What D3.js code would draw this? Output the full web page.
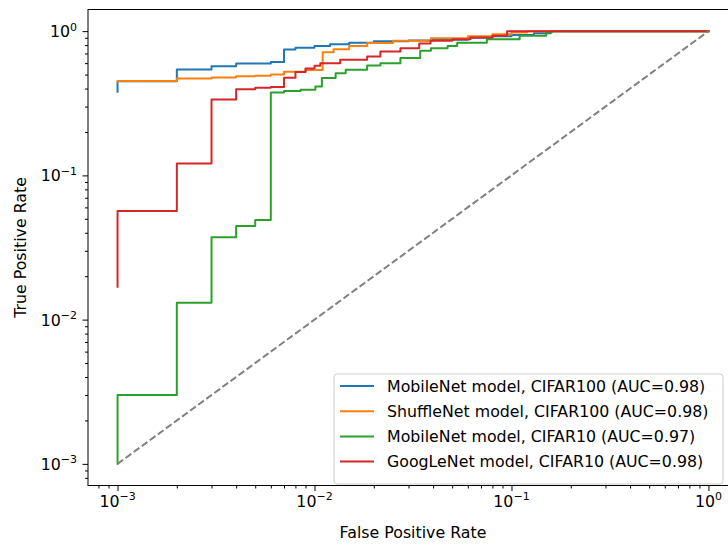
<!DOCTYPE html>
<html><head><meta charset="utf-8">
<script src="https://cdn.jsdelivr.net/npm/d3@7"></script>
<style>
html,body{margin:0;padding:0;background:#fff;}
svg{display:block;font-family:"DejaVu Sans",sans-serif;}
</style></head>
<body>
<svg id="c" width="728" height="545"></svg>
<script>
// ---- data (FPR / TPR step points of each ROC curve) ----
const seriesNames = [
  "MobileNet model, CIFAR100 (AUC=0.98)",
  "ShuffleNet model, CIFAR100 (AUC=0.98)",
  "MobileNet model, CIFAR10 (AUC=0.97)",
  "GoogLeNet model, CIFAR10 (AUC=0.98)"
];
const seriesColors = ["#1f77b4", "#ff7f0e", "#2ca02c", "#d62728"];

const mobileC100Fpr = [0.001, 0.001, 0.002, 0.003, 0.004, 0.006, 0.007, 0.008, 0.010, 0.012, 0.015, 0.020, 0.030, 0.040, 0.060, 0.080, 0.100, 0.130, 0.158, 1.0];
const mobileC100Tpr = [0.38, 0.45, 0.542, 0.572, 0.597, 0.612, 0.747, 0.767, 0.79, 0.81, 0.83, 0.85, 0.86, 0.87, 0.90, 0.92, 0.94, 0.965, 1.0, 1.0];

const shuffleC100Fpr = [0.001, 0.001, 0.002, 0.003, 0.004, 0.005, 0.006, 0.007, 0.009, 0.011, 0.0125, 0.015, 0.0185, 0.025, 0.039, 0.060, 0.080, 0.100, 0.120, 1.0];
const shuffleC100Tpr = [0.445, 0.452, 0.47, 0.478, 0.486, 0.49, 0.50, 0.522, 0.537, 0.715, 0.75, 0.79, 0.826, 0.857, 0.894, 0.92, 0.95, 0.98, 1.0, 1.0];

const mobileC10Fpr = [0.001, 0.001, 0.002, 0.003, 0.004, 0.005, 0.006, 0.007, 0.0085, 0.0101, 0.0109, 0.0128, 0.0144, 0.0185, 0.0216, 0.0273, 0.0344, 0.039, 0.0474, 0.053, 0.075, 0.110, 0.150, 0.160, 1.0];
const mobileC10Tpr = [0.001, 0.003, 0.0131, 0.0372, 0.0446, 0.049, 0.376, 0.384, 0.392, 0.414, 0.473, 0.51, 0.54, 0.578, 0.60, 0.65, 0.73, 0.76, 0.79, 0.83, 0.88, 0.928, 0.98, 1.0, 1.0];

const googC10Fpr = [0.001, 0.001, 0.002, 0.003, 0.004, 0.005, 0.006, 0.007, 0.008, 0.009, 0.010, 0.0107, 0.0135, 0.0185, 0.0216, 0.0273, 0.034, 0.0388, 0.050, 0.062, 0.080, 0.095, 1.0];
const googC10Tpr = [0.0169, 0.0566, 0.121, 0.336, 0.396, 0.405, 0.41, 0.475, 0.52, 0.55, 0.575, 0.60, 0.633, 0.667, 0.723, 0.762, 0.82, 0.857, 0.88, 0.905, 0.93, 1.0, 1.0];

const chanceFpr = [0.001, 1.0];
const chanceTpr = [0.001, 1.0];

const xMajorTicks = [1e-3, 1e-2, 1e-1, 1e0];
const yMajorTicks = [1e-3, 1e-2, 1e-1, 1e0];
const tickExponents = ["\u22123", "\u22122", "\u22121", "0"];
const xTitle = "False Positive Rate";
const yTitle = "True Positive Rate";

// ---- layout ----
const svg = d3.select("#c");
const L = 88, R = 738, T = 9.5, B = 485.5;
const lo = Math.pow(10, -3.15), hi = Math.pow(10, 0.15);
const x = d3.scaleLog().domain([lo, hi]).range([L, R]);
const y = d3.scaleLog().domain([lo, hi]).range([B, T]);

function minorTicks(){
  const out = [];
  for (let e = -4; e <= 0; e++) for (let m = 2; m <= 9; m++) {
    const v = m * Math.pow(10, e);
    if (v >= lo && v <= hi) out.push(v);
  }
  return out;
}

svg.append("defs").append("clipPath").attr("id","pc")
  .append("rect").attr("x",L).attr("y",T).attr("width",R-L).attr("height",B-T);

const plot = svg.append("g").attr("clip-path","url(#pc)");

const line = d3.line().x(d=>x(d[0])).y(d=>y(d[1])).curve(d3.curveStepAfter);
const straight = d3.line().x(d=>x(d[0])).y(d=>y(d[1]));

const allSeries = [
  [mobileC100Fpr, mobileC100Tpr],
  [shuffleC100Fpr, shuffleC100Tpr],
  [mobileC10Fpr, mobileC10Tpr],
  [googC10Fpr, googC10Tpr]
];
allSeries.forEach((s,i)=>{
  const pts = s[0].map((f,j)=>[f, s[1][j]]);
  plot.append("path").attr("d", line(pts)).attr("fill","none")
    .attr("stroke", seriesColors[i]).attr("stroke-width",2)
    .attr("stroke-linejoin","round").attr("stroke-linecap","square");
});
plot.append("path").attr("d", straight(chanceFpr.map((f,j)=>[f, chanceTpr[j]])))
  .attr("fill","none").attr("stroke","#808080").attr("stroke-width",2)
  .attr("stroke-dasharray","7,3");

// axes
const xAxisMajor = d3.axisBottom(x).tickValues(xMajorTicks).tickSize(5.5).tickFormat("");
const xAxisMinor = d3.axisBottom(x).tickValues(minorTicks()).tickSize(3).tickFormat("");
const yAxisMajor = d3.axisLeft(y).tickValues(yMajorTicks).tickSize(5.5).tickFormat("");
const yAxisMinor = d3.axisLeft(y).tickValues(minorTicks()).tickSize(3).tickFormat("");

function styleAxis(g){
  g.select(".domain").remove();
  g.selectAll("line").attr("stroke","#000").attr("stroke-width",1);
}
svg.append("g").attr("transform",`translate(0,${B})`).call(xAxisMajor).call(styleAxis);
svg.append("g").attr("transform",`translate(0,${B})`).call(xAxisMinor).call(styleAxis);
svg.append("g").attr("transform",`translate(${L},0)`).call(yAxisMajor).call(styleAxis);
svg.append("g").attr("transform",`translate(${L},0)`).call(yAxisMinor).call(styleAxis);

svg.append("rect").attr("x",L).attr("y",T).attr("width",R-L).attr("height",B-T)
  .attr("fill","none").attr("stroke","#000").attr("stroke-width",1);

// tick labels
const fs = 15.8, fsSup = 11;
xMajorTicks.forEach((v,i)=>{
  const t = svg.append("text").attr("x", x(v)).attr("y", B+21).attr("text-anchor","middle")
    .attr("font-size",fs).attr("fill","#000");
  t.append("tspan").text("10");
  t.append("tspan").attr("dy",-6.5).attr("font-size",fsSup).text(tickExponents[i]);
});
yMajorTicks.forEach((v,i)=>{
  const t = svg.append("text").attr("x", L-11).attr("y", y(v)+6).attr("text-anchor","end")
    .attr("font-size",fs).attr("fill","#000");
  t.append("tspan").text("10");
  t.append("tspan").attr("dy",-6.5).attr("font-size",fsSup).text(tickExponents[i]);
});

// axis titles
svg.append("text").attr("x",(L+R)/2).attr("y",538).attr("text-anchor","middle")
  .attr("font-size",fs).attr("fill","#000").text(xTitle);
svg.append("text").attr("transform",`translate(26,${(T+B)/2}) rotate(-90)`)
  .attr("text-anchor","middle").attr("font-size",fs).attr("fill","#000").text(yTitle);

// legend
const lg = svg.append("g");
lg.append("rect").attr("x",334).attr("y",374).attr("width",389).attr("height",110)
  .attr("rx",3).attr("fill","#fff").attr("fill-opacity",0.8).attr("stroke","#ccc");
seriesNames.forEach((n,i)=>{
  const yy = 386 + i*25.2;
  lg.append("line").attr("x1",340).attr("x2",374).attr("y1",yy).attr("y2",yy)
    .attr("stroke",seriesColors[i]).attr("stroke-width",2);
  lg.append("text").attr("x",387).attr("y",yy+5.5).attr("font-size",fs).attr("fill","#000").text(n);
});
</script>
</body></html>
